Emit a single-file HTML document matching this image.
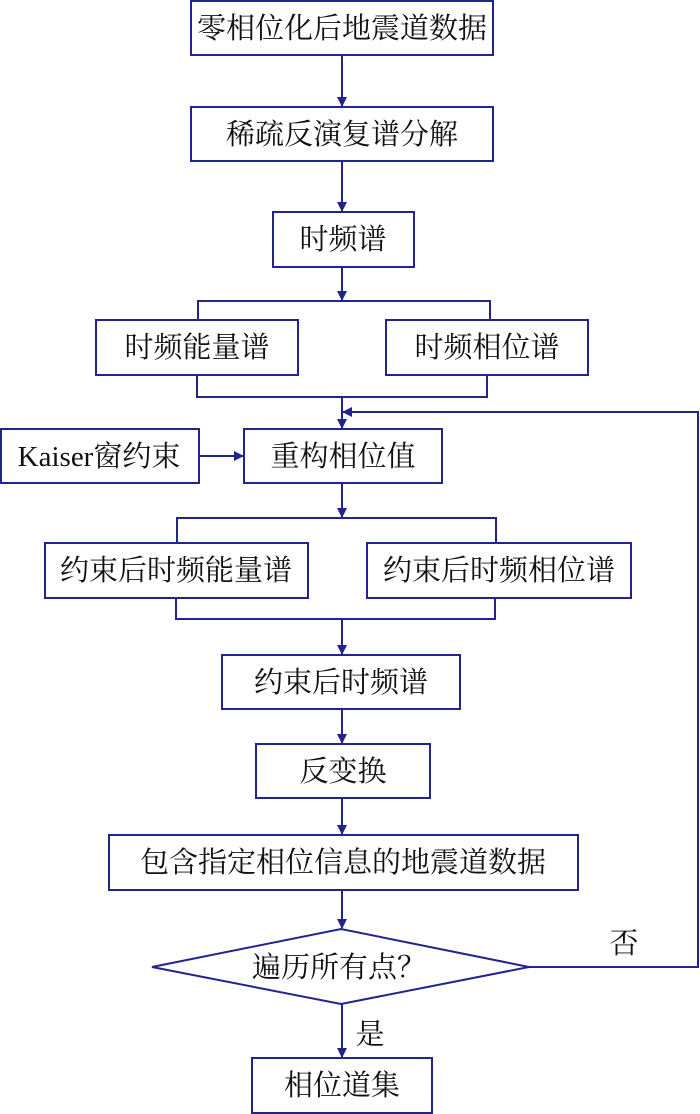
<!DOCTYPE html>
<html><head><meta charset="utf-8"><style>
html,body{margin:0;padding:0;background:#fff;}
svg{display:block;}
text{font-family:"Liberation Serif","Noto Serif CJK SC",serif;font-size:29px;fill:#111;text-anchor:middle;dominant-baseline:central;}
</style></head><body>
<svg width="700" height="1114" viewBox="0 0 700 1114" xmlns="http://www.w3.org/2000/svg">
<defs><marker id="a" markerWidth="10" markerHeight="10" refX="9" refY="5" orient="auto" markerUnits="userSpaceOnUse"><path d="M0,0 L10,5 L0,10 Z" fill="#23238e"/></marker></defs>
<g fill="none" stroke="#23238e" stroke-width="2">
<rect x="191" y="1" width="302" height="54" fill="#fff"/>
<rect x="191" y="107" width="302" height="54"/>
<rect x="273" y="212" width="141" height="55"/>
<rect x="96" y="320" width="202" height="55"/>
<rect x="386" y="320" width="202" height="55"/>
<rect x="1" y="429" width="198" height="54"/>
<rect x="244" y="429" width="198" height="54"/>
<rect x="45" y="543" width="263" height="55"/>
<rect x="367" y="543" width="264" height="55"/>
<rect x="222" y="655" width="238" height="54"/>
<rect x="256" y="744" width="174" height="54"/>
<rect x="109" y="835" width="469" height="55"/>
<polygon points="152,967 341,929 529,967 341,1004"/>
<rect x="252" y="1058" width="180" height="55"/>
<line x1="342" y1="55" x2="342" y2="106" marker-end="url(#a)"/>
<line x1="342" y1="161" x2="342" y2="211" marker-end="url(#a)"/>
<line x1="342" y1="267" x2="342" y2="300" marker-end="url(#a)"/>
<polyline points="198,320 198,301 490,301 490,320"/>
<polyline points="197,375 197,397 487,397 487,375"/>
<line x1="342" y1="397" x2="342" y2="428" marker-end="url(#a)"/>
<polyline points="529,967 698,967 698,412 343,412" marker-end="url(#a)"/>
<line x1="199" y1="456" x2="243" y2="456" marker-end="url(#a)"/>
<line x1="342" y1="483" x2="342" y2="517" marker-end="url(#a)"/>
<polyline points="177,543 177,518 496,518 496,543"/>
<polyline points="176,598 176,619 495,619 495,598"/>
<line x1="342" y1="619" x2="342" y2="654" marker-end="url(#a)"/>
<line x1="342" y1="709" x2="342" y2="743" marker-end="url(#a)"/>
<line x1="342" y1="798" x2="342" y2="834" marker-end="url(#a)"/>
<line x1="342" y1="890" x2="342" y2="928" marker-end="url(#a)"/>
<line x1="342" y1="1004" x2="342" y2="1057" marker-end="url(#a)"/>
</g>
<text x="342" y="29">零相位化后地震道数据</text>
<text x="342" y="135">稀疏反演复谱分解</text>
<text x="343" y="240">时频谱</text>
<text x="197" y="348">时频能量谱</text>
<text x="487" y="348">时频相位谱</text>
<text x="99" y="457">Kaiser窗约束</text>
<text x="343" y="457">重构相位值</text>
<text x="176" y="571">约束后时频能量谱</text>
<text x="499" y="571">约束后时频相位谱</text>
<text x="341" y="683">约束后时频谱</text>
<text x="343" y="772">反变换</text>
<text x="343" y="863">包含指定相位信息的地震道数据</text>
<text x="339" y="968">遍历所有点？</text>
<text x="624" y="944">否</text>
<text x="370" y="1035">是</text>
<text x="342" y="1086">相位道集</text>
</svg>
</body></html>
